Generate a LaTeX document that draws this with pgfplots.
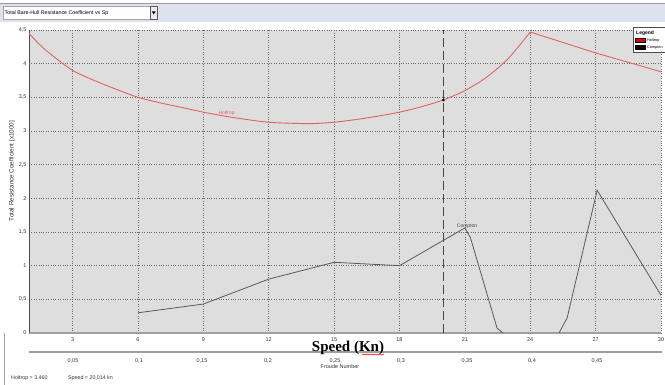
\documentclass[border=0pt]{standalone}
\usepackage{fontspec}
\setmainfont{Liberation Sans}
\newfontfamily\serifbold{Liberation Serif}
\usepackage{pgfplots}
\pgfplotsset{compat=1.18}
\usetikzlibrary{decorations.pathmorphing}
\definecolor{plotgray}{HTML}{DEDEDE}
\definecolor{barblue}{HTML}{DDE2EE}
\definecolor{holtred}{HTML}{E06262}
\definecolor{compgray}{HTML}{5A5A5A}
\definecolor{gridc}{HTML}{6A6A6A}
\begin{document}
\begin{tikzpicture}[x=1pt,y=1pt]
\useasboundingbox (0,0) rectangle (665,385);
\begin{scope}
\clip (0,0) rectangle (665,385);
% window bar
\fill[white] (0,0) rectangle (665,385);
\fill[barblue] (0,363) rectangle (665,381);
\draw[gray!80, line width=1pt] (0,381.5) -- (665,381.5);
\draw[gray!70, fill=white] (3,365.5) rectangle (150,378.5);
\node[anchor=west, inner sep=0pt, font=\fontsize{5.3}{6}\selectfont] at (4.5,372) {Total Bare-Hull Resistance Coefficient vs Sp};
\draw[gray!70!black, fill=gray!15] (150,365.5) rectangle (157.5,378.5);
\fill[black] (151.8,373.5) -- (155.7,373.5) -- (153.75,370.5) -- cycle;
\draw[gray!70, line width=0.8pt] (4,0) -- (4,52);
\begin{axis}[
  at={(29pt,52pt)}, anchor=south west,
  scale only axis, width=632pt, height=303pt,
  xmin=1, xmax=30, ymin=0, ymax=4.5,
  axis background/.style={fill=plotgray},
  axis x line*=bottom, axis y line*=left,
  x axis line style={-, draw=gray!75, line width=2.2pt},
  y axis line style={-, draw=gray!60!black, line width=0.6pt},
  grid=major,
  grid style={dotted, draw=gridc, line width=0.7pt},
  xtick={3,6,...,30},
  ytick={0,0.5,...,4.5},
  major tick length=0pt,
  tick label style={font=\fontsize{5.5}{6}\selectfont, text=black!80},
  /pgf/number format/assume math mode=true,
  /pgf/number format/use comma,
  xticklabel style={yshift=-1pt},
  yticklabel style={xshift=1pt},
  clip=true,
]
\addplot[holtred, line width=0.9pt, smooth] coordinates {
 (1,4.45) (1.5,4.28) (2,4.14) (3,3.9) (4,3.75) (5,3.62) (6,3.5) (7,3.42)
 (8,3.35) (9,3.28) (10,3.22) (11,3.17) (12,3.13) (13,3.115) (14,3.11)
 (15,3.13) (16,3.17) (17,3.22) (18,3.28) (19,3.36) (20,3.46) (21,3.6)
 (22,3.8) (23,4.08) (24,4.47)};
\addplot[holtred, line width=0.9pt] coordinates {(24,4.47) (27,4.16) (30,3.88)};
\addplot[compgray, line width=0.8pt] coordinates {
 (6,0.30) (9,0.43) (12,0.80) (15,1.05) (18,1.00) (21,1.56) (21.25,1.42)
 (22.48,0.07) (22.75,0)};
\addplot[compgray, line width=0.8pt] coordinates {
 (25.32,0) (25.69,0.22) (27.07,2.12) (30,0.56)};
\addplot[gray!55!black, line width=1.1pt, dash pattern=on 9pt off 4pt] coordinates {(20.014,0) (20.014,4.5)};
\addplot[only marks, mark=*, mark size=1.1pt, black] coordinates {(20.014,3.46)};
\node[font=\fontsize{5}{6}\selectfont, text=holtred] at (axis cs:10.07,3.27) {Holtrop};
\node[font=\fontsize{5}{6}\selectfont, text=black!75] at (axis cs:21.1,1.59) {Compton};
\end{axis}
% legend
\draw[gray!60!black, fill=white, line width=0.5pt] (633.5,333) rectangle (670,357.5);
\node[anchor=west, inner sep=0pt, font=\bfseries\fontsize{5}{6}\selectfont] at (636,352) {Legend};
\draw[black, fill=red!90!black, line width=0.4pt] (635,342.5) rectangle (645,346.5);
\node[anchor=west, inner sep=0pt, font=\fontsize{3.8}{4}\selectfont] at (647,344.5) {Holtrop};
\draw[black, fill=black, line width=0.4pt] (635,335.5) rectangle (645,339.5);
\node[anchor=west, inner sep=0pt, font=\fontsize{3.8}{4}\selectfont] at (647,337.5) {Compton};
% y label
\node[rotate=90, font=\fontsize{6.3}{7}\selectfont, text=black!80] at (12,214) {Total Resistance Coefficient [x1000]};
% Froude axis
\draw[gray!75, line width=1.5pt] (29,33) -- (662,33);
\foreach \xx/\lab in {73/{0,05},139/{0,1},202/{0,15},268/{0,2},335/{0,25},401/{0,3},467/{0,35},532/{0,4},597/{0,45}}{
  \node[font=\fontsize{5.5}{6}\selectfont, text=black!80, inner sep=0pt] at (\xx,24.5) {\lab};
}
\node[font=\fontsize{5.5}{6}\selectfont, text=black!80, inner sep=0pt] at (340,18) {Froude Number};
\node[font=\serifbold\bfseries\fontsize{15}{16}\selectfont, inner sep=0pt] (sp) at (348,37.5) {Speed (Kn)};
\draw[red, line width=0.5pt, decorate, decoration={snake, amplitude=0.6pt, segment length=2.5pt}] (362,30.5) -- (384,30.5);
% status line
\node[anchor=west, font=\fontsize{5.3}{6}\selectfont, text=black!80, inner sep=0pt] at (11,7) {Holtrop = 3,460};
\node[anchor=west, font=\fontsize{5.3}{6}\selectfont, text=black!80, inner sep=0pt] at (68,7) {Speed = 20,014 kn};
\end{scope}
\end{tikzpicture}
\end{document}
